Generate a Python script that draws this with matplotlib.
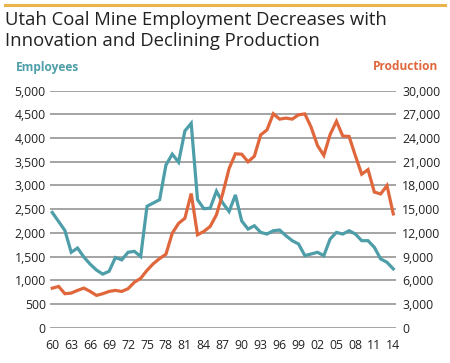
import matplotlib
matplotlib.use("Agg")
import matplotlib.pyplot as plt
from matplotlib.ticker import FuncFormatter

plt.rcParams['font.family'] = ['Open Sans', 'DejaVu Sans']

# years 1960-2014
years = list(range(1960, 2015))

employees = [
    2430, 2240, 2050, 1590, 1680, 1490, 1340, 1215, 1130, 1190,
    1480, 1430, 1590, 1610, 1500, 2560, 2630, 2700, 3430, 3660,
    3490, 4150, 4310, 2700, 2510, 2520, 2880, 2630, 2450, 2800,
    2250, 2080, 2150, 2010, 1975, 2045, 2060, 1940, 1835, 1765,
    1520, 1555, 1590, 1520, 1870, 2010, 1975, 2045, 1975, 1835,
    1835, 1695, 1450, 1380, 1240,
]

production = [
    5000, 5220, 4300, 4380, 4720, 5010, 4590, 4090, 4300, 4590,
    4720, 4590, 4930, 5750, 6250, 7250, 8100, 8750, 9300, 11950,
    13200, 13850, 16980, 11760, 12180, 12810, 14290, 17000, 20140, 22000,
    21950, 20990, 21700, 24390, 25030, 27070, 26390, 26520, 26390, 26940,
    27050, 25350, 23050, 21800, 24450, 26120, 24250, 24200, 21750, 19420,
    20000, 17160, 16920, 17980, 14400,
]

xtick_labels = [str(y)[2:] for y in years[::3]]

TEAL = '#4d9ea8'
ORANGE = '#e0673c'
GRID = '#8c8c8c'
TEXT = '#222222'

fig = plt.figure(figsize=(4.5, 3.63), dpi=100)
ax = fig.add_axes([50 / 450, 35.3 / 363, 346 / 450, 237.1 / 363])
ax2 = ax.twinx()

x = list(range(len(years)))
ax.plot(x, employees, color=TEAL, lw=2.3, solid_joinstyle='miter', zorder=3)
ax2.plot(x, production, color=ORANGE, lw=2.3, solid_joinstyle='miter', zorder=3)

ax.set_xlim(-0.36, 54.43)
ax.set_ylim(0, 5000)
ax2.set_ylim(0, 30000)

ax.set_yticks(range(0, 5001, 500))
ax2.set_yticks(range(0, 30001, 3000))
fmt = FuncFormatter(lambda v, p: f'{int(v):,}')
ax.yaxis.set_major_formatter(fmt)
ax2.yaxis.set_major_formatter(fmt)

ax.set_xticks(x[::3])
ax.set_xticklabels(xtick_labels)

ax.grid(axis='y', color=GRID, lw=1.1)
ax.set_axisbelow(True)
for a in (ax, ax2):
    for s in a.spines.values():
        s.set_visible(False)
ax.tick_params(axis='y', length=0, pad=3, labelsize=8.8, labelcolor=TEXT)
ax.tick_params(axis='x', length=0, pad=8, labelsize=8.8, labelcolor=TEXT)
ax2.tick_params(axis='y', length=0, pad=4.5, labelsize=8.8, labelcolor=TEXT)

# top rule and titles
fig.add_artist(plt.Line2D([5 / 450, 445 / 450], [1 - 5 / 363, 1 - 5 / 363],
                          color='#ebb44a', lw=2.2))
fig.text(5 / 450, 1 - 11 / 363, 'Utah Coal Mine Employment Decreases with\nInnovation and Declining Production',
         ha='left', va='top', fontsize=13.3, color=TEXT, linespacing=1.22)
fig.text(16 / 450, 1 - 67 / 363, 'Employees', ha='left', va='center',
         fontsize=8.6, fontweight='bold', color=TEAL)
fig.text(438 / 450, 1 - 67 / 363, 'Production', ha='right', va='center',
         fontsize=8.6, fontweight='bold', color=ORANGE)

fig.savefig('out.png', dpi=100)
